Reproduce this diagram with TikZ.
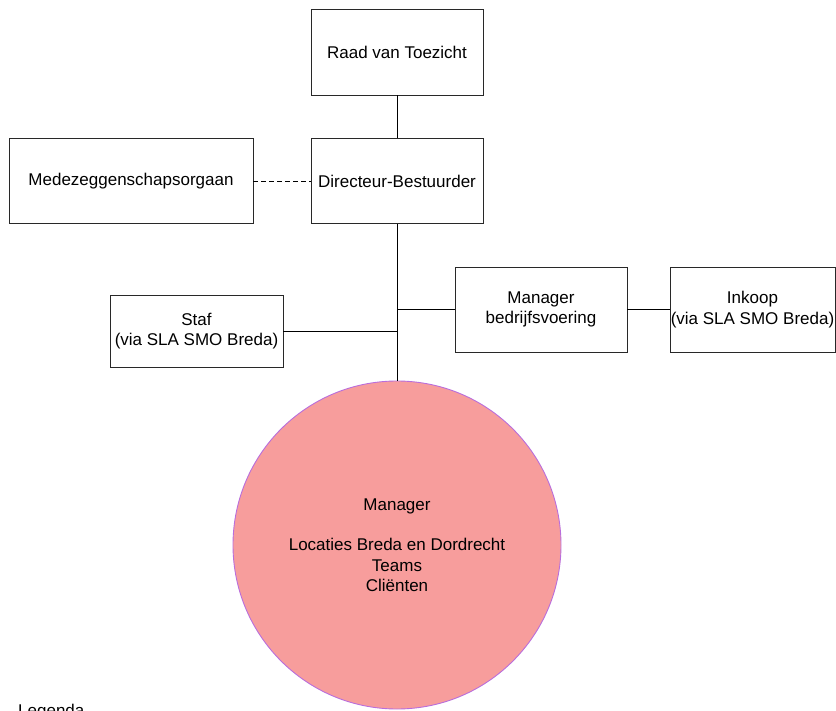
\documentclass[tikz,border=0pt]{standalone}
\usepackage{fontspec}
\setmainfont{Liberation Sans}
\definecolor{boxline}{RGB}{40,40,40}
\definecolor{mgrfill}{RGB}{247,157,156}
\definecolor{mgrline}{RGB}{185,110,220}
\tikzset{
  orgbox/.style = {draw = boxline, line width = .9pt, align = center, inner sep = 0pt},
  link/.style = {draw = black, line width = .9pt}
}

\begin{document}
\begin{tikzpicture}[x = 1pt, y = -1pt, font = \fontsize{17}{20.5}\selectfont]
\useasboundingbox (0,0) rectangle (836,711);
\node[orgbox, minimum width = 172, minimum height = 86] (raad) at (397,52) {Raad van Toezicht};
\node[orgbox, minimum width = 172, minimum height = 85] (dir) at (397,181) {Directeur-Bestuurder};
\node[orgbox, minimum width = 244, minimum height = 85] (mz) at (131,181) {Medezeggenschapsorgaan};
\node[orgbox, minimum width = 173, minimum height = 72] (staf) at (196.5,331) {Staf\\(via SLA SMO Breda)};
\node[orgbox, minimum width = 172, minimum height = 85] (bedr) at (541,309.5) {Manager\\bedrijfsvoering};
\node[orgbox, minimum width = 165, minimum height = 85] (inkoop) at (752.5,309.5) {Inkoop\\(via SLA SMO Breda)};
\node[circle, fill = mgrfill, draw = mgrline, line width = .9pt, minimum size = 328, inner sep = 0pt, align = center] (mgr) at (397,545)
  {Manager\\[20pt]Locaties Breda en Dordrecht\\Teams\\Cliënten};
\node[anchor = base west, inner sep = 0pt] (leg) at (18,716) {Legenda};
% lijnen
\draw[link] (raad) -- (dir);
\draw[link, dash pattern = on 5pt off 3pt] (mz) -- (dir);
\draw[link] (dir) -- (mgr);
\draw[link] (staf.east) -- (staf.east -| dir);
\draw[link] (bedr.west) -- (bedr.west -| dir);
\draw[link] (bedr) -- (inkoop);
\end{tikzpicture}
\end{document}
